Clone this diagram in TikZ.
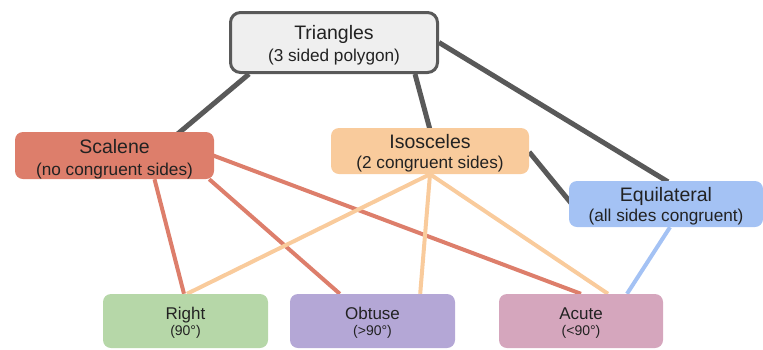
\documentclass[tikz,border=0pt]{standalone}
\usepackage{fontspec}
\setmainfont{Liberation Sans}
\usetikzlibrary{backgrounds}

\definecolor{darkline}{HTML}{595959}
\definecolor{trifill}{HTML}{EFEFEF}
\definecolor{scalcol}{HTML}{DD7E6B}
\definecolor{isocol}{HTML}{F9CB9C}
\definecolor{equicol}{HTML}{A4C2F4}
\definecolor{rightcol}{HTML}{B6D7A8}
\definecolor{obtcol}{HTML}{B4A7D6}
\definecolor{acutecol}{HTML}{D5A6BD}
\definecolor{txt}{HTML}{222222}

\newcommand{\subline}{\fontsize{17.2}{20}\selectfont}
\newcommand{\smallsub}{\fontsize{14}{16}\selectfont}

\begin{document}
\begin{tikzpicture}[x=1pt, y=-1pt,
    kind/.style={rectangle, rounded corners=8pt, inner sep=0pt, align=center,
      text=txt, minimum width=198pt, minimum height=46pt, text depth=0pt,
      font=\fontsize{19.5}{20}\selectfont},
    angle/.style={rectangle, rounded corners=8pt, inner sep=0pt, align=center,
      text=txt, minimum width=165pt, minimum height=54pt, text depth=0pt,
      text height=28pt, font=\fontsize{17}{16}\selectfont},
    grayedge/.style={draw=darkline, line width=5pt},
    scaledge/.style={draw=scalcol, line width=4pt},
    isoedge/.style={draw=isocol, line width=4pt},
    equiedge/.style={draw=equicol, line width=4pt}]
  \useasboundingbox (0,0) rectangle (763,349);

  % top
  \node[rectangle, rounded corners=10pt, draw=darkline, line width=3pt,
    fill=trifill, text=txt, align=center, inner sep=0pt, text depth=0pt,
    font=\fontsize{19.5}{22}\selectfont,
    text height=38pt, minimum width=207pt, minimum height=60pt] (tri) at (334,42.5)
    {Triangles\\\subline (3 sided polygon)};

  % kinds by sides
  \node[kind, fill=scalcol, minimum width=199pt, minimum height=47pt,
    font=\fontsize{19.5}{22}\selectfont, text height=40pt] (scal) at (114.5,155.5)
    {Scalene\\\subline (no congruent sides)};
  \node[kind, fill=isocol, text height=34pt] (iso) at (430,151)
    {Isosceles\\\subline (2 congruent sides)};
  \node[kind, fill=equicol, minimum width=194pt, text height=35pt] (equi) at (666,204)
    {Equilateral\\\subline (all sides congruent)};

  % kinds by angles
  \node[angle, fill=rightcol] (right) at (185.5,321)
    {Right\\\smallsub (90°)};
  \node[angle, fill=obtcol] (obt) at (372.5,321)
    {Obtuse\\\smallsub (>90°)};
  \node[angle, fill=acutecol, minimum width=164pt] (acute) at (581,321)
    {Acute\\\smallsub (<90°)};

  \begin{scope}[on background layer]
    \draw[scaledge] ([xshift=40pt]scal.south) -- ([xshift=-1.5pt]right.north);
    \draw[scaledge] ([xshift=-5pt]scal.south east) -- ([xshift=50pt]obt.north west);
    \draw[scaledge] ([xshift=-1pt]scal.east) -- (acute.north);

    \draw[isoedge] (iso.south) -- ([xshift=1.5pt]right.north);
    \draw[isoedge] (iso.south) -- ([xshift=-35pt]obt.north east);
    \draw[isoedge] (iso.south) -- ([xshift=27pt]acute.north);

    \draw[equiedge] ([xshift=4pt]equi.south) -- ([xshift=46pt]acute.north);

    \draw[grayedge] ([xshift=20pt]tri.south west) -- ([xshift=163pt,yshift=-2pt]scal.north west);
    \draw[grayedge] ([xshift=-24pt]tri.south east) -- ([yshift=-2pt]iso.north);
    \draw[grayedge] (tri.east) -- ([xshift=2pt,yshift=-1pt]equi.north);
    \draw[grayedge] ([yshift=-1pt]iso.east) -- ([xshift=3pt]equi.west);
  \end{scope}
\end{tikzpicture}
\end{document}
